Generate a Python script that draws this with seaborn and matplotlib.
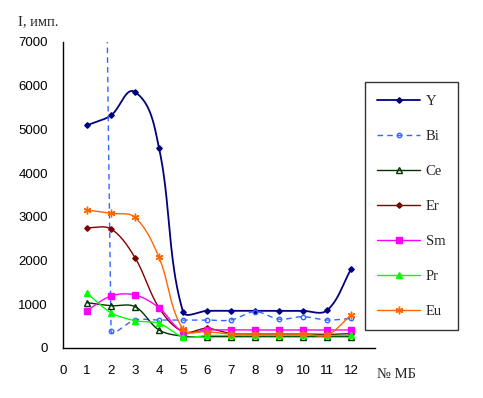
import numpy as np
import matplotlib
matplotlib.use('Agg')
import matplotlib.pyplot as plt
import seaborn as sb
from matplotlib.lines import Line2D

    # data

mb = [1, 2, 3, 4, 5, 6, 7, 8, 9, 10, 11, 12]
y_el  = [5094, 5322, 5856, 4575, 830, 850, 850, 850, 850, 850, 860, 1800]
bi_el = [80000, 396, 640, 640, 640, 640, 640, 831, 660, 716, 640, 678]
ce_el = [1037, 968, 945, 412, 270, 260, 260, 260, 260, 260, 260, 260]
er_el = [2752, 2722, 2066, 922, 373, 450, 330, 320, 320, 320, 310, 330]
sm_el = [854, 1190, 1212, 922, 373, 412, 412, 412, 412, 412, 412, 412]
pr_el = [1251, 808, 625, 564, 259, 286, 286, 286, 286, 286, 286, 286]
eu_el = [3157, 3081, 2989, 2074, 427, 373, 320, 320, 320, 320, 297, 755]

names = ['Y', 'Bi', 'Ce', 'Er', 'Sm', 'Pr', 'Eu']
series = [y_el, bi_el, ce_el, er_el, sm_el, pr_el, eu_el]
colors = ['#000080', '#3366FF', '#003300', '#800000', '#FF00FF', '#00FF00', '#FF6600']
markers = ['D', 'o', '^', 'D', 's', '^', (6, 2, 0)]
msizes = [2.8, 3.2, 4.5, 2.8, 4.2, 4.5, 5.5]
mfcs = [None, 'none', 'none', None, None, None, None]
styles = ['-', (0, (4, 3)), '-', '-', '-', '-', '-']
widths = [1.3, 1.0, 1.0, 1.0, 1.0, 1.0, 1.0]

xt = list(range(0, 14))
xt_labels = [str(i) for i in range(0, 13)] + ['']
yt = list(range(0, 8000, 1000))

    # excel-like smoothed line (bezier, control points along tangent)

sx, sy = 24.0, 306.0 / 7000.0

def smooth(x, y, n=40):
    P = np.column_stack([np.array(x, float) * sx, np.array(y, float) * sy])
    out = []
    for i in range(len(P) - 1):
        p0 = P[i - 1] if i > 0 else P[i]
        p1, p2 = P[i], P[i + 1]
        p3 = P[i + 2] if i + 2 < len(P) else P[i + 1]
        L = np.linalg.norm(p2 - p1)
        d1 = p2 - p0; d2 = p3 - p1
        c1 = p1 + d1 / np.linalg.norm(d1) * L / 3
        c2 = p2 - d2 / np.linalg.norm(d2) * L / 3
        t = np.linspace(0, 1, n)[:, None]
        b = (1 - t) ** 3 * p1 + 3 * (1 - t) ** 2 * t * c1 + 3 * (1 - t) * t ** 2 * c2 + t ** 3 * p2
        out.append(b if i == 0 else b[1:])
    b = np.vstack(out)
    return b[:, 0] / sx, b[:, 1] / sy

sb.set_style('white')
plt.rcParams['font.family'] = ['Liberation Sans', 'DejaVu Sans']

fig = plt.figure(figsize=(4.83, 3.98), dpi=100)
ax = fig.add_axes([63 / 483, 50 / 398, 312 / 483, 306 / 398])

handles = []
for nm, s, c, m, ms, mf, ls, lw in zip(names, series, colors, markers, msizes, mfcs, styles, widths):
    xs, ys = smooth(mb, s)
    sb.lineplot(x=xs, y=ys, ax=ax, color=c, lw=lw, linestyle=ls, sort=False, estimator=None)
    kw = dict(marker=m, ms=ms, color=c, mec=c, mew=1.0, linestyle='none')
    if mf is not None:
        kw['mfc'] = mf
    ax.plot(mb, s, **kw)
    handles.append(Line2D([], [], color=c, lw=lw, linestyle=ls, label=nm, **{k: v for k, v in kw.items() if k not in ('color', 'linestyle')}))

ax.set_xlim(0, 13)
ax.set_ylim(0, 7000)
ax.set_xticks(xt)
ax.set_xticklabels(xt_labels)
ax.set_yticks(yt)
ax.tick_params(axis='both', direction='in', length=4, width=1, color='black', labelsize=9.5, labelcolor='black')
ax.tick_params(axis='x', pad=12)
ax.tick_params(axis='y', pad=11)
for sp in ['top', 'right']:
    ax.spines[sp].set_visible(False)
for sp in ['left', 'bottom']:
    ax.spines[sp].set_color('black')
    ax.spines[sp].set_linewidth(1.0)
ax.set_xlabel('')
ax.set_ylabel('')

fig.text(18 / 483, 1 - 22 / 398, 'I, имп.', family='Liberation Serif', fontsize=10.5, va='center', ha='left')
fig.text(377 / 483, 1 - 375 / 398, '№ МБ', family='Liberation Serif', fontsize=10.5, va='center', ha='left')

leg = fig.legend(handles=handles, loc='upper left', bbox_to_anchor=(365 / 483, 1 - 82 / 398),
                 prop={'family': 'Liberation Serif', 'size': 10.5}, frameon=True, fancybox=False,
                 handlelength=2.9, handletextpad=0.4, labelspacing=1.5, borderpad=0.85,
                 borderaxespad=0)
leg.get_frame().set_edgecolor('black')
leg.get_frame().set_linewidth(1.0)

fig.savefig('out.png', dpi=100)
